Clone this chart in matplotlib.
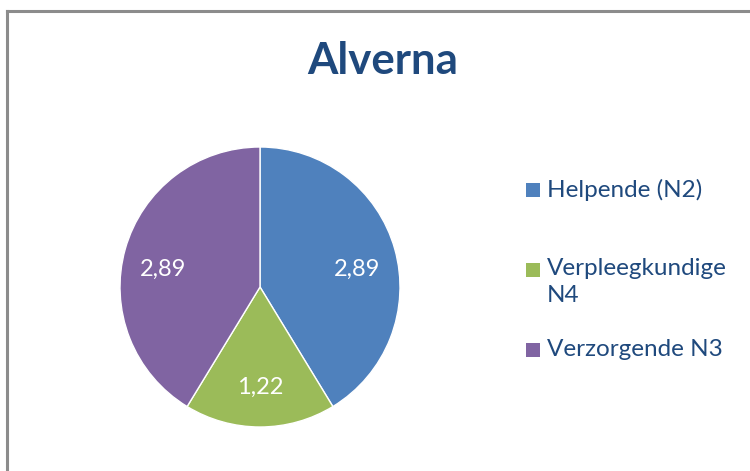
import matplotlib
matplotlib.use("Agg")
import matplotlib.pyplot as plt
from matplotlib.lines import Line2D
from matplotlib.patches import Rectangle

categories = ["Helpende (N2)", "Verpleegkundige\nN4", "Verzorgende N3"]
values = [2.89, 1.22, 2.89]
colors = ["#4F81BD", "#9BBB59", "#8064A2"]
title = "Alverna"

FONT = ["Lato", "DejaVu Sans"]
TXT = "#1F497D"

fig = plt.figure(figsize=(7.5, 4.71), dpi=100)
W, H = 750, 471

# border
fig.add_artist(Line2D([7/W, 7/W], [0, 1 - 10.5/H], transform=fig.transFigure, color="#8C8C8C", lw=2.2))
fig.add_artist(Line2D([7/W, 1], [1 - 10.5/H, 1 - 10.5/H], transform=fig.transFigure, color="#8C8C8C", lw=2.2))

cx, cy, r = 260, 287, 140
ax = fig.add_axes([(cx - r)/W, (H - cy - r)/H, 2*r/W, 2*r/H])
total = sum(values)
wedges, texts, autotexts = ax.pie(
    values, colors=colors, startangle=90, counterclock=False, radius=1,
    autopct=lambda p: f"{p*total/100:.2f}".replace(".", ","), pctdistance=0.72,
    wedgeprops=dict(edgecolor="white", linewidth=1.0),
    textprops=dict(color="white", fontsize=17, family=FONT))
ax.set_xlim(-1.0, 1.0)
ax.set_ylim(-1.0, 1.0)
ax.set_aspect("equal")
ax.axis("off")
# nudge side labels slightly lower (Excel best-fit placement)
for t in (autotexts[0], autotexts[2]):
    x, y = t.get_position()
    t.set_position((x, y - 0.07))

fig.text(383/W, 1 - 61/H, title, ha="center", va="center", fontsize=31.5,
         fontweight="bold", color=TXT, family=FONT)

# legend
ys = [190, 270, 350]
for lab, col, y in zip(categories, colors, ys):
    fig.add_artist(Rectangle(((526)/W, 1 - (y + 7)/H), 14/W, 14/H,
                             transform=fig.transFigure, facecolor=col, edgecolor="none"))
    if "\n" in lab:
        fig.text(547/W, 1 - (y - 12)/H, lab, ha="left", va="top",
                 fontsize=17.5, color=TXT, family=FONT, linespacing=1.35)
    else:
        fig.text(547/W, 1 - y/H, lab, ha="left", va="center",
                 fontsize=17.5, color=TXT, family=FONT)

fig.savefig("out.png", dpi=100)
